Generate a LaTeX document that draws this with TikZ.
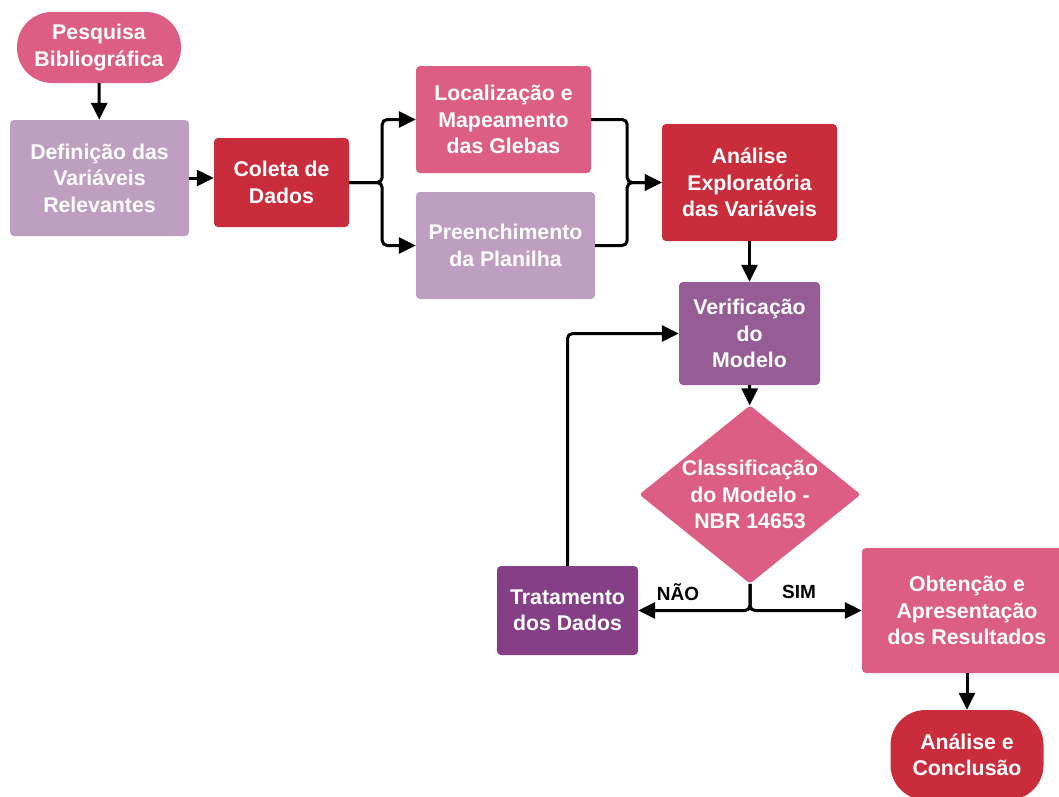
\documentclass[tikz,border=0pt]{standalone}
\usepackage{fontspec}
\setmainfont{Liberation Sans}
\usetikzlibrary{shapes.geometric,arrows.meta}
\definecolor{rosa}{RGB}{220,94,132}
\definecolor{lilas}{RGB}{190,158,193}
\definecolor{vermelho}{RGB}{201,44,58}
\definecolor{roxo}{RGB}{149,92,150}
\definecolor{ameixa}{RGB}{132,63,134}

\begin{document}
\begin{tikzpicture}[x=1pt,y=-1pt,
    caixa/.style={rounded corners=4pt,text=white,align=center,inner sep=0pt,
      font=\bfseries\fontsize{21.3}{26.5}\selectfont},
    pilula/.style={caixa,rounded corners=35pt},
    seta/.style={line width=3pt,-{Triangle[length=17pt,width=16pt]},rounded corners=5pt},
    rotulo/.style={font=\bfseries\fontsize{19}{22}\selectfont}]
  \useasboundingbox (0,0) rectangle (1059,796);
  \draw
    (99,47.5) node[pilula,fill=rosa,minimum width=164pt,minimum height=71pt] (pesq){Pesquisa\\Bibliográfica}
    (99.5,178) node[caixa,fill=lilas,minimum width=179pt,minimum height=116pt] (defn){Definição das\\Variáveis\\Relevantes}
    (281.5,182.5) node[caixa,fill=vermelho,minimum width=135pt,minimum height=89pt] (coleta){Coleta de\\Dados}
    (503.5,119.5) node[caixa,fill=rosa,minimum width=175pt,minimum height=107pt] (local){Localização e\\Mapeamento\\das Glebas}
    (505.5,245.5) node[caixa,fill=lilas,minimum width=179pt,minimum height=107pt] (preen){Preenchimento\\da Planilha}
    (749.5,182.5) node[caixa,fill=vermelho,minimum width=175pt,minimum height=117pt] (anal){Análise\\Exploratória\\das Variáveis}
    (749.5,333.5) node[caixa,fill=roxo,minimum width=141pt,minimum height=103pt] (verif){Verificação\\do\\Modelo}
    (750,494.5) node[caixa,diamond,rounded corners=3pt,fill=rosa,aspect=1.243,minimum width=220pt,minimum height=177pt] (class){Classificação\\do Modelo -\\NBR 14653}
    (567.5,610.5) node[caixa,fill=ameixa,minimum width=141pt,minimum height=89pt] (trat){Tratamento\\dos Dados}
    (967,610.5) node[caixa,fill=rosa,minimum width=210pt,minimum height=125pt] (obt){Obtenção e\\Apresentação\\dos Resultados}
    (967,755) node[pilula,fill=vermelho,minimum width=153pt,minimum height=90pt] (concl){Análise e\\Conclusão};
  \node[rotulo] (nao) at (678,592) {NÃO};
  \node[rotulo] (sim) at (799,592) {SIM};
  \begin{scope}
    \draw[seta] (pesq) -- (defn);
    \draw[seta] (defn.east) -- (defn.east -| coleta.west);
    \draw[seta] (coleta.east) -- ++(33,0) |- (local.west);
    \draw[seta] (coleta.east) -- ++(33,0) |- (preen.west);
    \draw[seta] (local.east) -- ++(36,0) |- (anal.west);
    \draw[seta] (preen.east) -- ++(32,0) |- (anal.west);
    \draw[seta] (anal) -- (verif);
    \draw[seta] (verif) -- (class);
    \draw[seta] (class.south) |- (trat.east);
    \draw[seta] (class.south) |- (obt.west);
    \draw[seta] (trat.north) |- (verif.west);
    \draw[seta] (obt) -- (concl);
  \end{scope}
\end{tikzpicture}
\end{document}
